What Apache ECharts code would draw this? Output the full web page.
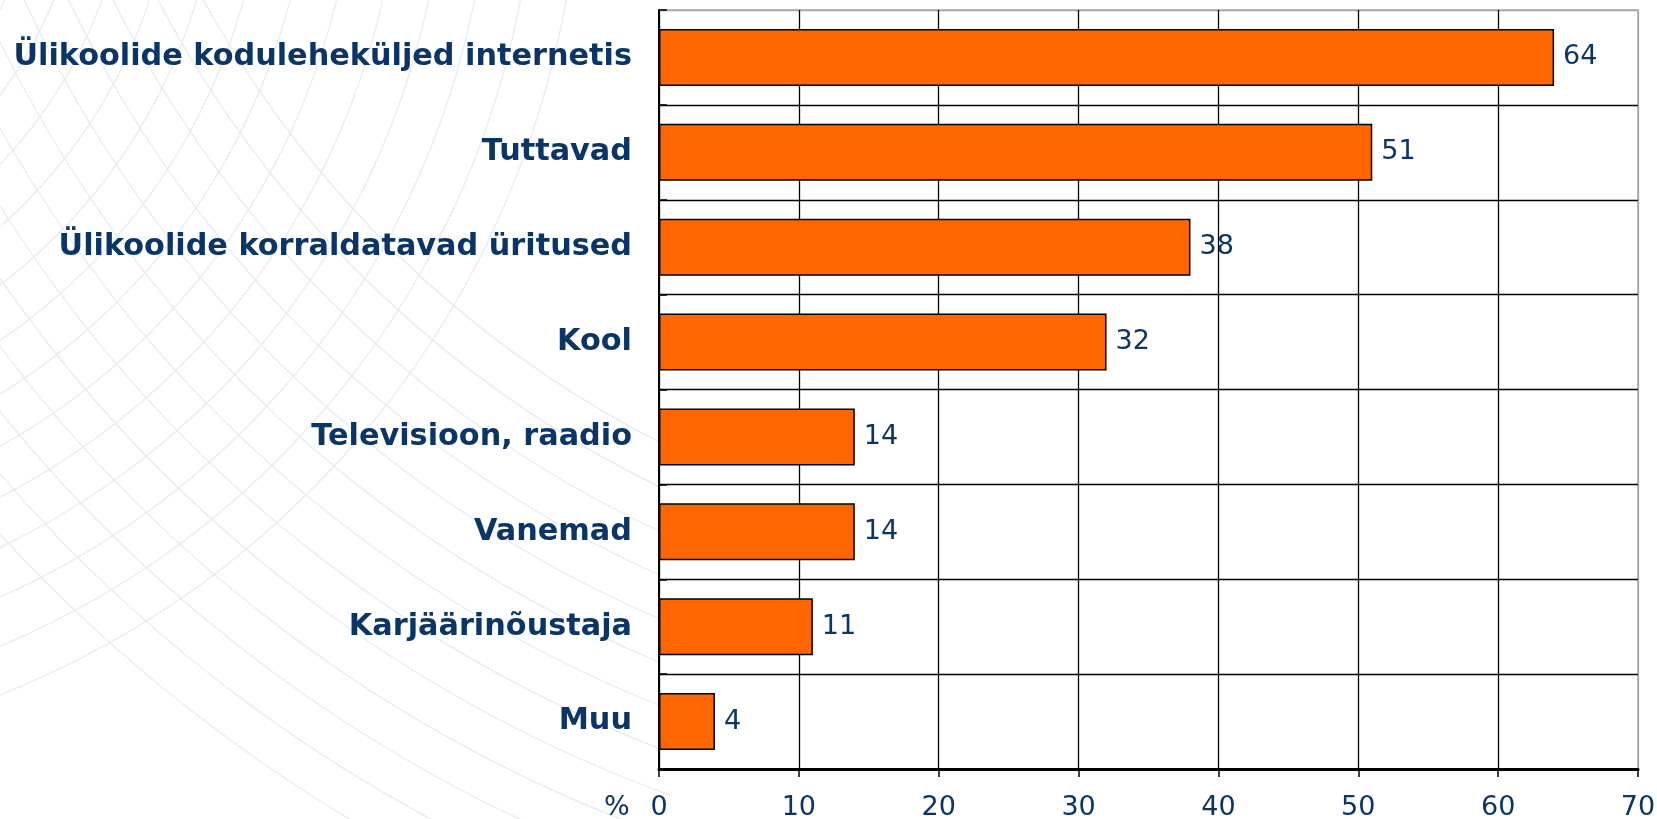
<!DOCTYPE html>
<html>
<head>
<meta charset="utf-8">
<title>Infoallikad</title>
<script src="https://cdn.jsdelivr.net/npm/echarts@6/dist/echarts.min.js"></script>
<style>
  html, body { margin: 0; padding: 0; background: #fff; }
  #chart { width: 1657px; height: 819px; }
</style>
</head>
<body>
<div id="chart"></div>
<script>
// andmed
var categories = [
  'Ülikoolide koduleheküljed internetis',
  'Tuttavad',
  'Ülikoolide korraldatavad üritused',
  'Kool',
  'Televisioon, raadio',
  'Vanemad',
  'Karjäärinõustaja',
  'Muu'
];
var values = [64, 51, 38, 32, 14, 14, 11, 4];
var xTicks = [0, 10, 20, 30, 40, 50, 60, 70];

var navy = '#0b3566';

// taustal heledad kaared (ainult vasakul pool)
var arcs = [];
var r;
for (r = 1080; r <= 1560; r += 40) {
  arcs.push({ type: 'arc', z: -10, silent: true,
    shape: { cx: 1150, cy: -520, r: r, startAngle: Math.acos(-480 / r), endAngle: Math.PI },
    style: { fill: 'none', stroke: '#e8ecf1', lineWidth: 1.4 } });
}
for (r = 380; r <= 940; r += 45) {
  arcs.push({ type: 'arc', z: -10, silent: true,
    shape: { cx: -340, cy: -160, r: r, startAngle: 0, endAngle: Math.PI / 2 },
    style: { fill: 'none', stroke: '#e8ecf1', lineWidth: 1.4 } });
}
arcs.push({ type: 'text', left: 604, top: 794, z: 10,
  style: { text: '%', fill: navy, font: '27px "DejaVu Sans"' } });

var chart = echarts.init(document.getElementById('chart'));
chart.setOption({
  backgroundColor: '#fff',
  animation: false,
  textStyle: { fontFamily: 'DejaVu Sans' },
  graphic: arcs,
  grid: {
    left: 659, right: 19, top: 10, bottom: 50,
    outerBoundsMode: 'none',
    show: true, backgroundColor: '#fff',
    borderColor: '#a6a6a6', borderWidth: 1.5
  },
  xAxis: {
    type: 'value',
    min: 0, max: 70, interval: 10,
    axisLine: { show: true, lineStyle: { color: '#000', width: 3 } },
    axisTick: { show: true, length: 8, lineStyle: { color: '#000', width: 1.5 } },
    axisLabel: {
      color: navy, fontSize: 27, margin: 25,
      formatter: function (v) { return xTicks.indexOf(v) >= 0 ? String(v) : ''; }
    },
    splitLine: {
      show: true,
      lineStyle: { color: ['#000', '#000', '#000', '#000', '#000', '#000', '#000', '#a6a6a6'], width: 1.3 }
    }
  },
  yAxis: {
    type: 'category',
    data: categories,
    inverse: true,
    axisLine: { show: true, lineStyle: { color: '#000', width: 2 } },
    axisTick: { show: true, inside: true, length: 8, lineStyle: { color: '#000', width: 1.5 } },
    axisLabel: { color: navy, fontSize: 30.3, fontWeight: 'bold', margin: 27 },
    splitLine: {
      show: true,
      lineStyle: { color: ['#a6a6a6', '#000', '#000', '#000', '#000', '#000', '#000', '#000', '#000'], width: 1.3 }
    }
  },
  series: [{
    type: 'bar',
    data: values,
    barWidth: 57,
    itemStyle: { color: '#ff6600', borderColor: '#000', borderWidth: 1.5 },
    label: {
      show: true, position: 'right', distance: 9,
      color: navy, fontSize: 27
    }
  }]
});
</script>
</body>
</html>
